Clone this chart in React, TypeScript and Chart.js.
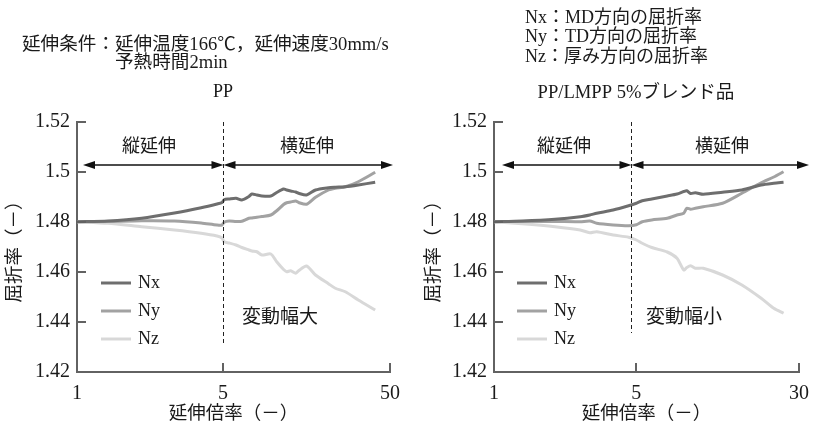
import React, { useEffect, useRef } from 'react';
import { Chart, registerables } from 'chart.js';

Chart.register(...registerables);

// ---------- data ----------
const seriesNames = ['Nx', 'Ny', 'Nz'];
const seriesColors = ['#6e6e6e', '#a2a2a2', '#d8d8d8'];

// x positions on the broken draw-ratio axis (0 = 1x, 7 = 5x, 15 = axis end)
const xTickValues = [0, 7, 15];
const ppXTickLabels = ['1', '5', '50'];
const lmXTickLabels = ['1', '5', '30'];
const yTickValues = [1.42, 1.44, 1.46, 1.48, 1.5, 1.52];
const yTickLabels = ['1.42', '1.44', '1.46', '1.48', '1.5', '1.52'];

// PP
const ppX = [0, 1.48, 3.1, 4.67, 5.95, 6.71, 6.95, 7.05, 7.29, 7.62, 7.9, 8.24, 8.38, 8.62, 8.86, 9.29, 9.57, 9.9, 10.05, 10.24, 10.48, 10.62, 11.0, 11.43, 12.05, 12.38, 12.86, 13.48, 14.29];
const ppNx = [1.4801, 1.4804, 1.4815, 1.4836, 1.4857, 1.4872, 1.4878, 1.4889, 1.4892, 1.4895, 1.4888, 1.4902, 1.4912, 1.4908, 1.4904, 1.4904, 1.4918, 1.4932, 1.4928, 1.4924, 1.492, 1.4915, 1.4908, 1.4928, 1.4937, 1.4939, 1.4941, 1.4948, 1.4959];
const ppNy = [1.4801, 1.4802, 1.4805, 1.4804, 1.4796, 1.4788, 1.4788, 1.4799, 1.4804, 1.4802, 1.4803, 1.4815, 1.4816, 1.4819, 1.4822, 1.4828, 1.4845, 1.487, 1.4877, 1.488, 1.4884, 1.4878, 1.4871, 1.4899, 1.4928, 1.4935, 1.4941, 1.4961, 1.4999];
const ppNz = [1.4801, 1.4795, 1.4781, 1.4768, 1.4755, 1.4744, 1.4736, 1.4721, 1.4716, 1.4708, 1.4698, 1.4688, 1.4684, 1.4681, 1.4668, 1.4672, 1.4641, 1.461, 1.4601, 1.4605, 1.4595, 1.4605, 1.4624, 1.4588, 1.4553, 1.4535, 1.4521, 1.4488, 1.4448];

// PP/LMPP 5% blend
const lmX = [0, 1.38, 3.0, 4.24, 4.71, 5.05, 5.86, 6.62, 7.0, 7.29, 7.76, 8.52, 9.0, 9.33, 9.48, 9.67, 9.9, 10.29, 11.24, 12.19, 13.14, 13.76, 14.24];
const lmNx = [1.4801, 1.4804, 1.4811, 1.4821, 1.4828, 1.4835, 1.4848, 1.4865, 1.4875, 1.4885, 1.4892, 1.4904, 1.4912, 1.4922, 1.4925, 1.4914, 1.4917, 1.4911, 1.4919, 1.4928, 1.4948, 1.4955, 1.4959];
const lmNy = [1.4801, 1.4802, 1.4802, 1.4801, 1.4804, 1.4795, 1.4788, 1.4785, 1.4789, 1.4801, 1.4808, 1.4815, 1.4828, 1.4835, 1.4855, 1.4851, 1.4855, 1.4861, 1.4875, 1.4915, 1.4957, 1.498, 1.5001];
const lmNz = [1.4801, 1.4793, 1.4781, 1.4768, 1.4757, 1.4761, 1.4748, 1.4739, 1.4728, 1.4715, 1.4698, 1.468, 1.4655, 1.4608, 1.4618, 1.4625, 1.4615, 1.4615, 1.4588, 1.4548, 1.4495, 1.4455, 1.4435];

// ---------- styles ----------
const FAMILY = '"Liberation Serif", "Noto Sans CJK JP", serif';
const TEXT = '#1a1a1a';
const AXIS = '#626262';

type Spec = any;

const leftSpec: Spec = {
  canvasLeft: 0, width: 410, padLeft: 0, yWidth: 77, padRight: 18,
  title: 'PP', titleX: 223, titleY: 92, titleSize: 18,
  header: [
    { text: '延伸条件：延伸温度166℃，延伸速度30mm/s', x: 22, y: 45 },
    { text: '予熱時間2min', x: 115, y: 63 },
  ],
  headerSize: 18.6,
  splitValue: 7, dashBottom: 343,
  arrowY: 165, arrowStart: 83, arrowEnd: 393,
  stages: [{ text: '縦延伸', x: 149 }, { text: '横延伸', x: 307 }], stageY: 147,
  note: { text: '変動幅大', x: 242, y: 318 },
  legendX: 101, legendY: 283, legendGap: 28,
  xs: ppX, series: [ppNx, ppNy, ppNz], xLabels: ppXTickLabels,
};

const rightSpec: Spec = {
  canvasLeft: 410, width: 409, padLeft: 9, yWidth: 75, padRight: 10,
  title: 'PP/LMPP 5%ブレンド品', titleX: 226, titleY: 93, titleSize: 18.6,
  header: [
    { text: 'Nx：MD方向の屈折率', x: 115, y: 18 },
    { text: 'Ny：TD方向の屈折率', x: 115, y: 37 },
    { text: 'Nz：厚み方向の屈折率', x: 115, y: 57 },
  ],
  headerSize: 18,
  splitValue: 6.76, dashBottom: 333,
  arrowY: 165, arrowStart: 92, arrowEnd: 399,
  stages: [{ text: '縦延伸', x: 154 }, { text: '横延伸', x: 312 }], stageY: 147,
  note: { text: '変動幅小', x: 236, y: 318 },
  legendX: 107, legendY: 283, legendGap: 28,
  xs: lmX, series: [lmNx, lmNy, lmNz], xLabels: lmXTickLabels,
};

function arrowHead(ctx: CanvasRenderingContext2D, tipX: number, y: number, dir: number) {
  const len = 12, half = 4;
  ctx.beginPath();
  ctx.moveTo(tipX, y);
  ctx.lineTo(tipX - dir * len, y - half);
  ctx.lineTo(tipX - dir * len, y + half);
  ctx.closePath();
  ctx.fill();
}

function doubleArrow(ctx: CanvasRenderingContext2D, x1: number, x2: number, y: number) {
  ctx.beginPath();
  ctx.moveTo(x1 + 4, y);
  ctx.lineTo(x2 - 4, y);
  ctx.stroke();
  arrowHead(ctx, x1, y, -1);
  arrowHead(ctx, x2, y, 1);
}

function makePlugin(spec: Spec) {
  return {
    id: 'annot',
    afterDatasetsDraw(chart: any) {
      const { ctx, chartArea: ca, scales } = chart;
      const x = scales.x, y = scales.y;
      ctx.save();
      // inward tick marks
      ctx.strokeStyle = AXIS;
      ctx.lineWidth = 2;
      yTickValues.forEach((v) => {
        const py = Math.round(y.getPixelForValue(v));
        ctx.beginPath();
        ctx.moveTo(ca.left, py);
        ctx.lineTo(ca.left + 9, py);
        ctx.stroke();
      });
      xTickValues.slice(1).forEach((v) => {
        const px = Math.round(x.getPixelForValue(v));
        ctx.beginPath();
        ctx.moveTo(px, ca.bottom);
        ctx.lineTo(px, ca.bottom - 9);
        ctx.stroke();
      });
      // dashed separator
      const dx = Math.round(x.getPixelForValue(spec.splitValue)) + 0.5;
      ctx.strokeStyle = '#222';
      ctx.lineWidth = 1;
      ctx.setLineDash([4, 3]);
      ctx.beginPath();
      ctx.moveTo(dx, ca.top);
      ctx.lineTo(dx, spec.dashBottom);
      ctx.stroke();
      ctx.setLineDash([]);
      // arrows
      ctx.strokeStyle = '#111';
      ctx.fillStyle = '#111';
      ctx.lineWidth = 1.5;
      doubleArrow(ctx, spec.arrowStart, dx, spec.arrowY);
      doubleArrow(ctx, dx, spec.arrowEnd, spec.arrowY);
      // texts
      ctx.fillStyle = TEXT;
      ctx.textBaseline = 'middle';
      ctx.textAlign = 'center';
      ctx.font = `18px ${FAMILY}`;
      spec.stages.forEach((s: any) => ctx.fillText(s.text, s.x, spec.stageY));
      ctx.font = `${spec.titleSize}px ${FAMILY}`;
      ctx.fillText(spec.title, spec.titleX, spec.titleY);
      ctx.textAlign = 'left';
      ctx.font = `${spec.headerSize}px ${FAMILY}`;
      spec.header.forEach((h: any) => ctx.fillText(h.text, h.x, h.y));
      ctx.font = `19px ${FAMILY}`;
      ctx.fillText(spec.note.text, spec.note.x, spec.note.y);
      // legend
      ctx.font = `18px ${FAMILY}`;
      chart.data.datasets.forEach((ds: any, i: number) => {
        const ly = spec.legendY + i * spec.legendGap;
        ctx.strokeStyle = ds.borderColor;
        ctx.lineWidth = 3;
        ctx.beginPath();
        ctx.moveTo(spec.legendX, ly);
        ctx.lineTo(spec.legendX + 30, ly);
        ctx.stroke();
        ctx.fillStyle = TEXT;
        ctx.fillText(ds.label, spec.legendX + 37, ly);
      });
      ctx.restore();
    },
  };
}

function Panel({ spec }: { spec: Spec }) {
  const ref = useRef<HTMLCanvasElement>(null);
  useEffect(() => {
    const canvas = ref.current;
    if (!canvas) return;
    const chart = new Chart(canvas, {
      type: 'line',
      data: {
        datasets: spec.series.map((ys: number[], i: number) => ({
          label: seriesNames[i],
          data: spec.xs.map((xv: number, j: number) => ({ x: xv, y: ys[j] })),
          borderColor: seriesColors[i],
          backgroundColor: seriesColors[i],
          borderWidth: 3,
          pointRadius: 0,
          tension: 0.25,
          fill: false,
        })),
      },
      options: {
        responsive: false,
        animation: false,
        devicePixelRatio: 1,
        layout: { padding: { top: 122, bottom: 0, left: spec.padLeft, right: spec.padRight } },
        plugins: { legend: { display: false }, tooltip: { enabled: false }, title: { display: false } },
        scales: {
          x: {
            type: 'linear',
            min: 0,
            max: 15,
            grid: { display: false, drawTicks: false },
            border: { display: true, color: AXIS, width: 2 },
            afterBuildTicks: (s: any) => { s.ticks = xTickValues.map((v) => ({ value: v })); },
            afterFit: (s: any) => { s.height = 54; },
            ticks: {
              autoSkip: false,
              maxRotation: 0,
              padding: 10,
              color: TEXT,
              font: { family: FAMILY, size: 20 },
              callback: (v: any) => spec.xLabels[xTickValues.indexOf(Number(v))] ?? '',
            },
            title: {
              display: true,
              text: '延伸倍率（－）',
              color: TEXT,
              font: { family: FAMILY, size: 18.5 },
              padding: { top: 0, bottom: 1 },
            },
          },
          y: {
            type: 'linear',
            min: 1.42,
            max: 1.52,
            grid: { display: false, drawTicks: false },
            border: { display: true, color: AXIS, width: 2 },
            afterBuildTicks: (s: any) => { s.ticks = yTickValues.map((v) => ({ value: v })); },
            afterFit: (s: any) => { s.width = spec.yWidth; },
            ticks: {
              padding: 7,
              color: TEXT,
              font: { family: FAMILY, size: 20 },
              callback: (v: any) => {
                const idx = yTickValues.findIndex((t) => Math.abs(t - Number(v)) < 1e-6);
                return idx >= 0 ? yTickLabels[idx] : '';
              },
            },
            title: {
              display: true,
              text: '屈折率（－）',
              color: TEXT,
              font: { family: FAMILY, size: 18.5 },
              padding: { top: 4, bottom: 4 },
            },
          },
        },
      },
      plugins: [makePlugin(spec)],
    } as any);
    return () => chart.destroy();
  }, [spec]);
  return (
    <canvas
      ref={ref}
      width={spec.width}
      height={426}
      style={{ position: 'absolute', left: spec.canvasLeft, top: 0, width: spec.width, height: 426 }}
    />
  );
}

export default function App() {
  return (
    <div style={{ position: 'absolute', left: 0, top: 0, width: 819, height: 426, background: '#fff', overflow: 'hidden' }}>
      <Panel spec={leftSpec} />
      <Panel spec={rightSpec} />
    </div>
  );
}
